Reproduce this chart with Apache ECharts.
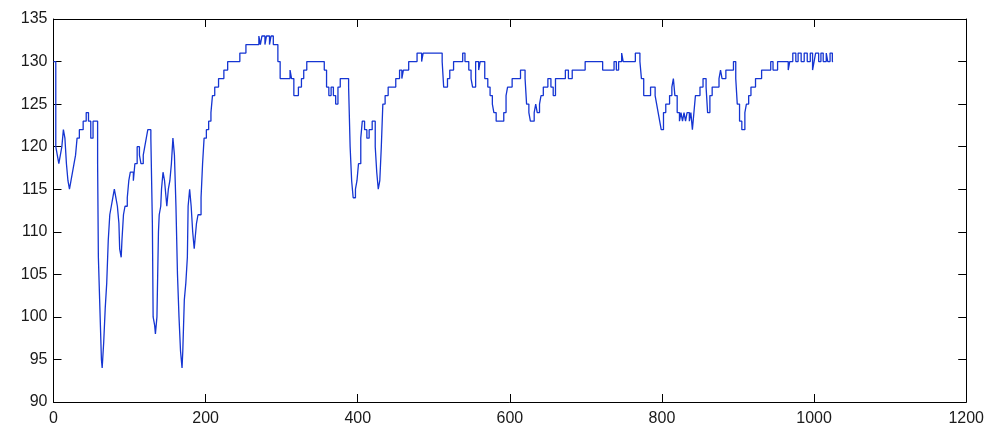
<!DOCTYPE html>
<html>
<head>
<meta charset="utf-8">
<script src="https://cdn.jsdelivr.net/npm/echarts@6/dist/echarts.min.js"></script>
<style>
html,body{margin:0;padding:0;background:#fff;}
#chart{width:987px;height:427px;}
</style>
</head>
<body>
<div id="chart"></div>
<script>
// sample index where each level starts (stepped signal)
var sampleX = [0,3,5,7,9,11,13,15,17,19,21,23,25,27,29,31,34,39,43,46,49,52,58,59,61,63,64,66,68,70,72,74,76,78,80,82,84,86,87,89,90,92,94,97,99,101,105,107,110,113,115,118,120,122,124,128,130,131,133,134,136,137,138,139,141,142,144,146,148,149,151,153,155,157,159,161,163,165,167,169,170,172,174,176,177,179,181,183,185,186,188,190,194,196,198,201,204,207,209,212,217,224,229,245,253,270,272,274,278,280,284,286,289,295,298,311,313,316,322,326,329,333,356,359,362,365,368,371,374,377,388,390,392,394,397,399,401,404,406,409,412,415,419,423,425,427,429,431,433,436,440,450,455,458,460,467,478,484,486,511,513,518,521,526,538,541,546,549,551,555,559,561,567,571,574,577,579,582,592,595,597,603,614,620,622,625,627,632,634,636,639,641,644,650,654,657,660,673,677,682,699,722,737,740,743,747,749,765,771,773,776,785,791,793,795,797,799,802,805,810,813,815,817,820,823,825,827,829,831,833,836,838,840,842,844,850,854,858,860,863,866,875,877,879,884,894,897,899,902,905,909,911,914,917,923,931,943,946,952,966,968,972,976,979,983,987,991,995,998,1000,1002,1006,1009,1012,1016,1018,1021,1024,1025];
var sampleY = [130,120,119,118,119,120,122,121,118,116,115,116,117,118,119,121,122,123,124,123,121,123,118,107,101,95,94,97,101,104,109,112,113,114,115,114,113,111,108,107,109,112,113,114,116,117,116,118,120,119,118,119,120,121,122,121,111,100,99,98,100,105,110,112,113,115,117,116,114,113,115,116,118,121,119,113,105,100,96,94,96,102,104,107,113,115,113,110,108,109,111,112,114,118,121,122,123,124,126,127,128,129,130,131,132,133,132,133,132,133,132,133,132,130,128,129,128,126,127,128,129,130,129,127,126,127,126,125,127,128,127,120,116,114,115,116,118,121,123,122,121,122,123,120,117,115,116,120,125,126,127,128,129,128,129,130,131,130,131,130,127,128,129,130,131,130,129,128,127,130,129,130,128,127,126,125,124,123,124,126,127,128,129,128,125,124,123,124,125,124,125,126,127,128,127,126,128,129,128,129,130,129,130,129,130,131,130,131,130,128,126,127,126,125,124,123,122,124,125,126,127,128,126,124,123,124,123,124,123,124,123,124,122,124,126,127,128,127,124,126,127,128,129,128,129,130,128,125,123,122,124,125,126,127,128,129,130,129,130,129,130,131,130,131,130,131,130,131,129,130,131,130,131,130,131,130,131,130,130];
var xTicks = {min: 0, max: 1200, interval: 200};
var yTicks = {min: 90, max: 135, interval: 5};

var points = sampleX.map(function (x, i) { return [x, sampleY[i]]; });

var chart = echarts.init(document.getElementById('chart'), null, {renderer: 'canvas'});
var labelFont = {color: '#1a1a1a', fontSize: 16, fontFamily: 'Liberation Sans, Arial, sans-serif',
  formatter: function (v) { return String(v); }};
var lineStyle = {color: '#000', width: 1};
chart.setOption({
  animation: false,
  backgroundColor: '#ffffff',
  grid: {left: 53.5, right: 20, top: 19, bottom: 25, containLabel: false},
  xAxis: [{
    type: 'value', position: 'bottom', min: xTicks.min, max: xTicks.max, interval: xTicks.interval,
    axisLine: {show: true, onZero: false, lineStyle: lineStyle},
    axisTick: {show: true, inside: true, length: 8, lineStyle: lineStyle},
    axisLabel: Object.assign({margin: 9}, labelFont),
    splitLine: {show: false}
  }, {
    type: 'value', position: 'top', min: xTicks.min, max: xTicks.max, interval: xTicks.interval,
    axisLine: {show: true, onZero: false, lineStyle: lineStyle},
    axisTick: {show: true, inside: true, length: 8, lineStyle: lineStyle},
    axisLabel: {show: false},
    splitLine: {show: false}
  }],
  yAxis: [{
    type: 'value', position: 'left', min: yTicks.min, max: yTicks.max, interval: yTicks.interval,
    axisLine: {show: true, onZero: false, lineStyle: lineStyle},
    axisTick: {show: true, inside: true, length: 8, lineStyle: lineStyle},
    axisLabel: Object.assign({margin: 6}, labelFont),
    splitLine: {show: false}
  }, {
    type: 'value', position: 'right', min: yTicks.min, max: yTicks.max, interval: yTicks.interval,
    axisLine: {show: true, onZero: false, lineStyle: lineStyle},
    axisTick: {show: true, inside: true, length: 8, lineStyle: lineStyle},
    axisLabel: {show: false},
    splitLine: {show: false}
  }],
  series: [{
    type: 'line',
    xAxisIndex: 0, yAxisIndex: 0,
    data: points,
    step: 'end',
    showSymbol: false,
    symbol: 'none',
    lineStyle: {color: '#1535d2', width: 1.3},
    silent: true
  }]
});
</script>
</body>
</html>
